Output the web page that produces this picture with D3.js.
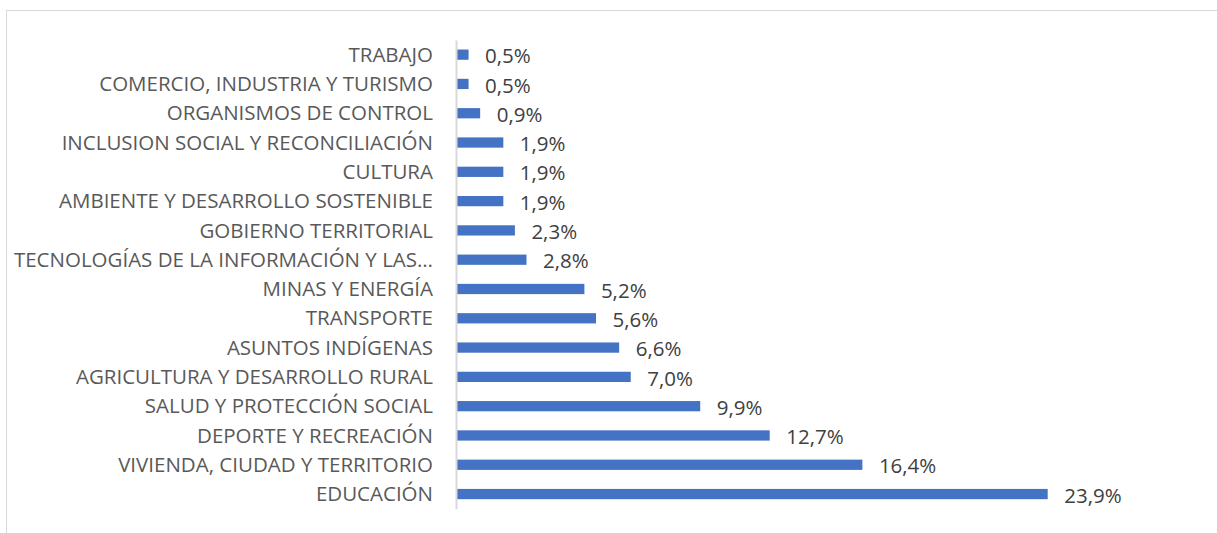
<!DOCTYPE html>
<html>
<head>
<meta charset="utf-8">
<script src="https://cdn.jsdelivr.net/npm/d3@7"></script>
<style>
  html, body { margin: 0; padding: 0; background: #fff; }
  svg { display: block; }
</style>
</head>
<body>
<svg id="chart" width="1217" height="533"></svg>
<script>
const categories = [
  "TRABAJO",
  "COMERCIO, INDUSTRIA Y TURISMO",
  "ORGANISMOS DE CONTROL",
  "INCLUSION SOCIAL Y RECONCILIACIÓN",
  "CULTURA",
  "AMBIENTE Y DESARROLLO SOSTENIBLE",
  "GOBIERNO TERRITORIAL",
  "TECNOLOGÍAS DE LA INFORMACIÓN Y LAS…",
  "MINAS Y ENERGÍA",
  "TRANSPORTE",
  "ASUNTOS INDÍGENAS",
  "AGRICULTURA Y DESARROLLO RURAL",
  "SALUD Y PROTECCIÓN SOCIAL",
  "DEPORTE Y RECREACIÓN",
  "VIVIENDA, CIUDAD Y TERRITORIO",
  "EDUCACIÓN"
];
const values = [0.469, 0.469, 0.939, 1.878, 1.878, 1.878, 2.347, 2.817, 5.164, 5.634, 6.573, 7.042, 9.859, 12.676, 16.432, 23.944];

const svg = d3.select("#chart");
const font = "'Open Sans', 'DejaVu Sans', sans-serif";

// frame
svg.append("rect")
  .attr("x", 6.5).attr("y", 10.5)
  .attr("width", 1240).attr("height", 700)
  .attr("fill", "none").attr("stroke", "#d9d9d9").attr("stroke-width", 1);

const x0 = 457;
const x = d3.scaleLinear().domain([0, 23.944]).range([x0, 1047.7]);
const y = d3.scaleBand().domain(categories).range([40, 508.7]).paddingInner(0.65).paddingOuter(0.325);

// bars
svg.append("g").selectAll("rect")
  .data(values)
  .join("rect")
  .attr("x", x(0))
  .attr("y", (d, i) => y(categories[i]))
  .attr("width", d => x(d) - x(0))
  .attr("height", y.bandwidth())
  .attr("fill", "#4472c4");

// axis (category)
const yAxis = d3.axisLeft(y).tickSize(0).tickPadding(0);
const ag = svg.append("g").attr("transform", `translate(${x0 - 1},0)`).call(yAxis);
ag.select(".domain").attr("stroke", "#d9d9d9").attr("stroke-width", 2);
ag.selectAll(".tick text")
  .attr("x", -23)
  .attr("dy", "0.35em")
  .attr("fill", "#595959")
  .style("font-family", font)
  .style("font-size", "20.5px");

// value labels
const fmt = v => d3.format(".1f")(v).replace(".", ",") + "%";
svg.append("g").selectAll("text")
  .data(values)
  .join("text")
  .attr("x", d => x(d) + 16.5)
  .attr("y", (d, i) => y(categories[i]) + y.bandwidth() / 2 + 1.5)
  .attr("dy", "0.35em")
  .attr("fill", "#404040")
  .style("font-family", font)
  .style("font-size", "20.5px")
  .text(fmt);
</script>
</body>
</html>
